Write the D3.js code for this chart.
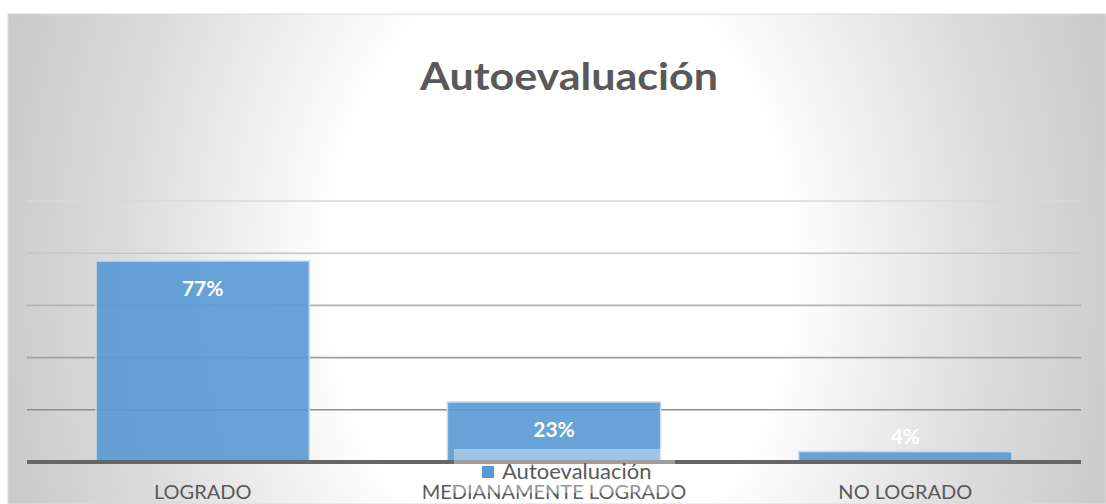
<!DOCTYPE html>
<html>
<head>
<meta charset="utf-8">
<title>Autoevaluación</title>
<script src="https://d3js.org/d3.v7.min.js"></script>
<style>
body { margin: 0; background: #fff; font-family: Lato, "Open Sans", sans-serif; }
.title { font-size: 38px; font-weight: bold; fill: #595959; }
.cat { font-size: 20px; fill: #595959; }
.lbl { font-size: 21px; font-weight: bold; fill: #fff; }
.legend-text { font-size: 22px; fill: #595959; }
</style>
</head>
<body>
<div class="content"></div>
<script>
// data
var categories = ["LOGRADO", "MEDIANAMENTE LOGRADO", "NO LOGRADO"];
var values = [0.77, 0.23, 0.04];
var yTicks = [0, 0.2, 0.4, 0.6, 0.8, 1];
var seriesName = "Autoevaluación";

var W = 1106, H = 504;
var frame = { x: 8, y: 14, w: 1098, h: 490 };
var plot = { left: 27, right: 1081, top: 201, bottom: 462 };

var f = d3.format(".0%");

var svg = d3.select(".content").append("svg")
  .attr("width", W).attr("height", H);

var defs = svg.append("defs");
var grad = defs.append("radialGradient")
  .attr("id", "bg")
  .attr("gradientUnits", "userSpaceOnUse")
  .attr("cx", 560).attr("cy", 270).attr("r", 600)
  .attr("gradientTransform", "translate(560,270) scale(1,1.35) translate(-560,-270)");
grad.append("stop").attr("offset", 0).attr("stop-color", "#ffffff");
grad.append("stop").attr("offset", 0.38).attr("stop-color", "#ffffff");
grad.append("stop").attr("offset", 0.7).attr("stop-color", "#dedede");
grad.append("stop").attr("offset", 1).attr("stop-color", "#c6c6c6");

// chart area
svg.append("rect")
  .attr("x", frame.x).attr("y", frame.y)
  .attr("width", frame.w).attr("height", frame.h)
  .style("fill", "url(#bg)")
  .style("stroke", "#dcdcdc")
  .style("stroke-width", 1);

// title (Calibri-like width)
svg.append("text")
  .attr("class", "title")
  .attr("x", 569).attr("y", 90)
  .attr("text-anchor", "middle")
  .attr("textLength", 298)
  .attr("lengthAdjust", "spacingAndGlyphs")
  .text(seriesName);

var x = d3.scaleBand()
  .domain(categories)
  .range([plot.left, plot.right])
  .paddingInner(0.393)
  .paddingOuter(0.1965);

var y = d3.scaleLinear()
  .domain([0, 1])
  .range([plot.bottom, plot.top]);

var gridColor = d3.scaleLinear()
  .domain([0.2, 1])
  .range(["#8e8e8e", "#d8d8d8"]);

// gridlines
svg.append("g")
  .attr("class", "grid")
  .selectAll("line")
  .data(yTicks.filter(function (d) { return d > 0; }))
  .enter().append("line")
  .attr("x1", plot.left).attr("x2", plot.right)
  .attr("y1", function (d) { return y(d); })
  .attr("y2", function (d) { return y(d); })
  .style("stroke", function (d) { return gridColor(d); })
  .style("stroke-width", 1.6);

// bars
svg.append("g")
  .selectAll("rect")
  .data(values)
  .enter().append("rect")
  .attr("x", function (d, i) { return x(categories[i]); })
  .attr("y", function (d) { return y(d); })
  .attr("width", x.bandwidth())
  .attr("height", function (d) { return y(0) - y(d); })
  .style("fill", "#5B9BD5")
  .style("fill-opacity", 0.92)
  .style("stroke", "#c6dbef")
  .style("stroke-width", 1.5);

// data labels
svg.append("g")
  .selectAll("text")
  .data(values)
  .enter().append("text")
  .attr("class", "lbl")
  .attr("x", function (d, i) { return x(categories[i]) + x.bandwidth() / 2; })
  .attr("y", function (d) {
    var h = y(0) - y(d);
    return h > 40 ? y(d) + 35 : y(d) - 8;
  })
  .attr("text-anchor", "middle")
  .text(function (d) { return f(d); });

// baseline
svg.append("line")
  .attr("x1", plot.left).attr("x2", plot.right)
  .attr("y1", y(0)).attr("y2", y(0))
  .style("stroke", "#666666")
  .style("stroke-width", 4);

// category labels
svg.append("g")
  .selectAll("text")
  .data(categories)
  .enter().append("text")
  .attr("class", "cat")
  .attr("x", function (d) { return x(d) + x.bandwidth() / 2; })
  .attr("y", 499)
  .attr("text-anchor", "middle")
  .text(function (d) { return d; });

// legend
var lg = svg.append("g").attr("class", "legend");
lg.append("rect")
  .attr("x", 454).attr("y", 449)
  .attr("width", 221).attr("height", 44)
  .style("fill", "#ffffff")
  .style("fill-opacity", 0.37);
lg.append("rect")
  .attr("x", 482).attr("y", 466)
  .attr("width", 12).attr("height", 12)
  .style("fill", "#5B9BD5");
lg.append("text")
  .attr("class", "legend-text")
  .attr("x", 502).attr("y", 479)
  .text(seriesName);
</script>
</body>
</html>
